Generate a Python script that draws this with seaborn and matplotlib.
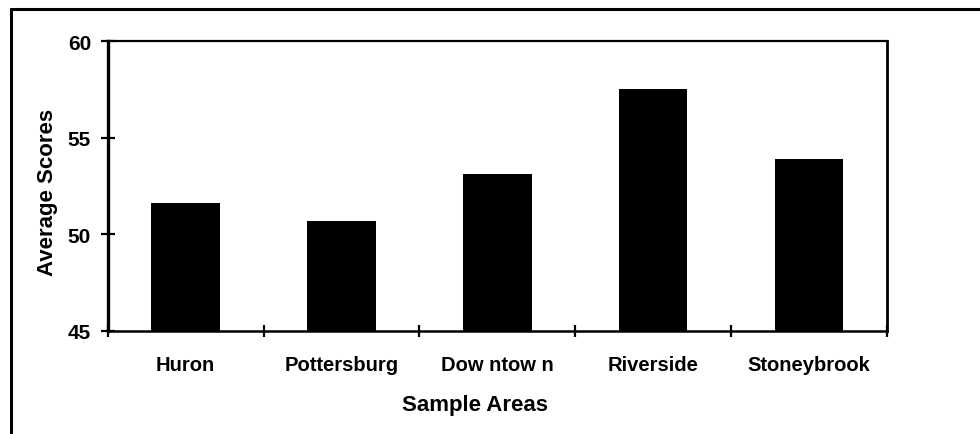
import matplotlib
matplotlib.use("Agg")
import matplotlib.pyplot as plt
from matplotlib.lines import Line2D
import seaborn as sns
import pandas as pd

# Average scores by sample area
areas = ["Huron", "Pottersburg", "Dow ntow n", "Riverside", "Stoneybrook"]
scores = [51.6, 50.7, 53.1, 57.5, 53.9]
y_ticks = [45, 50, 55, 60]

sns.set_theme(style="white")
plt.rcParams["font.family"] = ["Liberation Sans", "DejaVu Sans"]
plt.rcParams["font.weight"] = "bold"
plt.rcParams["text.color"] = "black"
plt.rcParams["axes.labelcolor"] = "black"

df = pd.DataFrame({"area": areas, "score": scores})

fig = plt.figure(figsize=(9.8, 4.35), dpi=100)
ax = fig.add_axes([0.110, 0.237, 0.795, 0.666])

sns.barplot(data=df, x="area", y="score", color="black", width=0.44,
            saturation=1, ax=ax, edgecolor="black", linewidth=0)

ax.set_ylim(45, 60)
ax.set_xlim(-0.5, len(areas) - 0.5)
ax.set_yticks(y_ticks)
ax.set_yticklabels([str(t) for t in y_ticks], fontsize=15, fontweight="bold")
ax.set_xticks(range(len(areas)))
ax.set_xticklabels(areas, fontsize=14.5, fontweight="bold")
ax.tick_params(axis="x", which="major", length=0, pad=17, colors="black")
ax.set_xticks([i + 0.5 for i in range(-1, len(areas))], minor=True)
ax.tick_params(axis="x", which="minor", length=9, width=1.6,
               direction="inout", bottom=True, colors="black")
ax.tick_params(axis="y", which="major", length=10, width=1.6,
               direction="inout", left=True, pad=7, colors="black")

# Frame: solid left/right, dotted top, thin bottom
for side in ["left", "right", "top", "bottom"]:
    ax.spines[side].set_visible(True)
    ax.spines[side].set_color("black")
ax.spines["left"].set_linewidth(2.4)
ax.spines["right"].set_linewidth(2.0)
ax.spines["top"].set_linewidth(1.6)
ax.spines["top"].set_linestyle((0, (1, 1)))
ax.spines["bottom"].set_linewidth(1.8)

ax.set_xlabel("Sample Areas", fontsize=16, fontweight="bold", va="top",
              color="black")
ax.xaxis.set_label_coords(0.471, -0.218)
ax.set_ylabel("Average Scores", fontsize=16, fontweight="bold", color="black")
ax.yaxis.set_label_coords(-0.064, 0.483)

# Outer chart-area border (top and left edges)
fig.add_artist(Line2D([11 / 980, 11 / 980], [0, 1 - 10 / 435],
                      transform=fig.transFigure, color="black", lw=2.2))
fig.add_artist(Line2D([11 / 980, 1], [1 - 10 / 435, 1 - 10 / 435],
                      transform=fig.transFigure, color="black", lw=2.2))

fig.savefig("out.png", dpi=100, facecolor="white")
